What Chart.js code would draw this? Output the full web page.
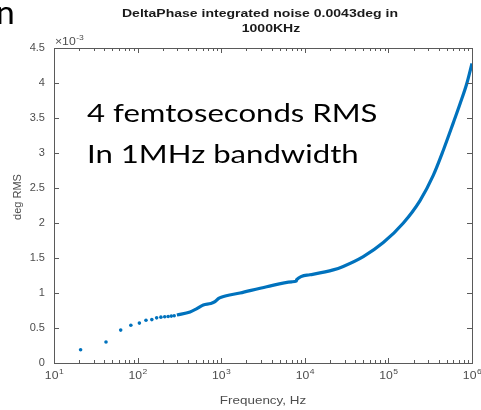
<!DOCTYPE html>
<html>
<head>
<meta charset="utf-8">
<script src="https://cdn.jsdelivr.net/npm/chart.js@4"></script>
<style>
  body { margin: 0; background: #fff; }
  #wrap { position: relative; width: 481px; height: 410px; }
  #mycanvas { position: absolute; left: 0; top: 0; }
</style>
</head>
<body>
<div id="wrap"><canvas id="mycanvas" width="481" height="410"></canvas></div>
<script>
// integrated phase noise, values in units of 1e-3 deg RMS
var lowFreqHz = [20.8, 41.9, 62.8, 83, 105, 126, 148, 169, 190, 211, 232, 253, 274];
var lowRms = [0.19, 0.30, 0.47, 0.54, 0.57, 0.61, 0.62, 0.645, 0.655, 0.66, 0.665, 0.67, 0.675];

var curveFreqHz = [295, 424, 500, 611, 750, 843, 924, 1000, 1680, 3500, 7000, 7900, 8000, 11500,
                   21900, 28800, 50100, 86900, 151000, 239000, 344000, 454000, 597000, 718000, 865000, 1000000];
var curveRms = [0.685, 0.73, 0.77, 0.83, 0.85, 0.876, 0.92, 0.94, 1.0, 1.09, 1.16, 1.17, 1.19, 1.26,
                1.33, 1.38, 1.52, 1.72, 2.0, 2.32, 2.68, 3.04, 3.43, 3.70, 3.99, 4.28];

var yTicks = [0, 0.5, 1, 1.5, 2, 2.5, 3, 3.5, 4, 4.5];
var xDecadeExp = [1, 2, 3, 4, 5, 6];

var blue = "#0072BD";
var tickGray = "#4d4d4d";
var stretch = 1.22;   // the figure text is a bit wide

function toPoints(xs, ys) {
    var pts = [];
    for (var i in xs) {
        pts.push({ x: xs[i], y: ys[i] });
    }
    return pts;
}

// text drawn with a horizontal stretch, x is the anchor for the given alignment
function wideText(ctx, text, x, y, align, sx) {
    ctx.save();
    ctx.translate(x, y);
    ctx.scale(sx, 1);
    ctx.textAlign = align;
    ctx.fillText(text, 0, 0);
    ctx.restore();
}

// box, inward ticks and labels drawn the way MATLAB does it
var matlabAxes = {
    id: "matlabAxes",
    afterDraw: function(chart) {
        var ctx = chart.ctx;
        var a = chart.chartArea;
        var xs = chart.scales.x;
        var ys = chart.scales.y;
        ctx.save();
        ctx.strokeStyle = "#5a5a5a";
        ctx.lineWidth = 1;
        ctx.strokeRect(Math.round(a.left) + 0.5, Math.round(a.top) + 0.5,
                       Math.round(a.right - a.left), Math.round(a.bottom - a.top));

        ctx.beginPath();
        yTicks.forEach(function(v) {
            var py = Math.round(ys.getPixelForValue(v)) + 0.5;
            ctx.moveTo(a.left, py); ctx.lineTo(a.left + 5, py);
            ctx.moveTo(a.right, py); ctx.lineTo(a.right - 5, py);
        });
        xDecadeExp.forEach(function(e) {
            for (var m = 1; m <= 9; m++) {
                if (e == 6 && m > 1) break;
                var px = Math.round(xs.getPixelForValue(m * Math.pow(10, e))) + 0.5;
                var len = (m == 1) ? 5 : 3;
                ctx.moveTo(px, a.bottom); ctx.lineTo(px, a.bottom - len);
                ctx.moveTo(px, a.top); ctx.lineTo(px, a.top + len);
            }
        });
        ctx.stroke();

        ctx.fillStyle = tickGray;
        ctx.font = "10.5px 'Liberation Sans'";
        ctx.textBaseline = "middle";
        yTicks.forEach(function(v) {
            wideText(ctx, String(v), a.left - 9, ys.getPixelForValue(v), "right", 1.05);
        });

        ctx.textBaseline = "alphabetic";
        xDecadeExp.forEach(function(e) {
            var px = xs.getPixelForValue(Math.pow(10, e));
            ctx.font = "10px 'Liberation Sans'";
            var w1 = ctx.measureText("10").width * stretch;
            ctx.font = "7px 'Liberation Sans'";
            var w2 = ctx.measureText(String(e)).width * stretch;
            var x0 = px - (w1 + w2) / 2;
            ctx.font = "10px 'Liberation Sans'";
            wideText(ctx, "10", x0, a.bottom + 16, "left", stretch);
            ctx.font = "7px 'Liberation Sans'";
            wideText(ctx, String(e), x0 + w1 + 0.5, a.bottom + 11, "left", stretch);
        });

        // exponent for the y axis
        ctx.font = "10px 'Liberation Sans'";
        var wm = ctx.measureText("\u00d710").width * stretch;
        wideText(ctx, "\u00d710", a.left + 1, a.top - 3, "left", stretch);
        ctx.font = "7px 'Liberation Sans'";
        wideText(ctx, "-3", a.left + 1 + wm + 0.5, a.top - 8, "left", stretch);

        // axis labels
        ctx.font = "11px 'Liberation Sans'";
        wideText(ctx, "Frequency, Hz", 263, a.bottom + 41, "center", stretch);
        ctx.save();
        ctx.translate(21, 197);
        ctx.rotate(-Math.PI / 2);
        ctx.textAlign = "center";
        ctx.fillText("deg RMS", 0, 0);
        ctx.restore();

        // title
        ctx.fillStyle = "#1a1a1a";
        ctx.font = "bold 11.5px 'Liberation Sans'";
        wideText(ctx, "DeltaPhase integrated noise 0.0043deg in", 260, 17, "center", stretch);
        wideText(ctx, "1000KHz", 271, 32, "center", stretch);

        // annotation
        ctx.fillStyle = "#000";
        ctx.font = "25.5px Lato";
        wideText(ctx, "4 femtoseconds RMS", 87, 122, "left", stretch);
        wideText(ctx, "In 1MHz bandwidth", 87, 163, "left", stretch);

        // leftover letter at the upper left corner
        ctx.font = "32px Lato";
        wideText(ctx, "n", -4, 24, "left", 1.05);
        ctx.restore();
    }
};

var chartdata = {
    datasets: [{
        label: "low",
        data: toPoints(lowFreqHz, lowRms),
        showLine: false,
        pointRadius: 1.8,
        pointBorderWidth: 0,
        pointBackgroundColor: blue
    },
    {
        label: "curve",
        data: toPoints(curveFreqHz, curveRms),
        showLine: true,
        borderColor: blue,
        borderWidth: 3.2,
        pointRadius: 0,
        cubicInterpolationMode: "monotone",
        fill: false
    }]
};

var ctx = document.getElementById("mycanvas");
var LineGraph = new Chart(ctx, {
    type: "line",
    data: chartdata,
    plugins: [matlabAxes],
    options: {
        responsive: false,
        animation: false,
        events: [],
        layout: { padding: { left: 54, right: 9, top: 48, bottom: 47 } },
        plugins: {
            legend: { display: false },
            tooltip: { enabled: false }
        },
        scales: {
            x: { type: "logarithmic", min: 10, max: 1000000, display: false },
            y: { type: "linear", min: 0, max: 4.5, display: false }
        }
    }
});
</script>
</body>
</html>
